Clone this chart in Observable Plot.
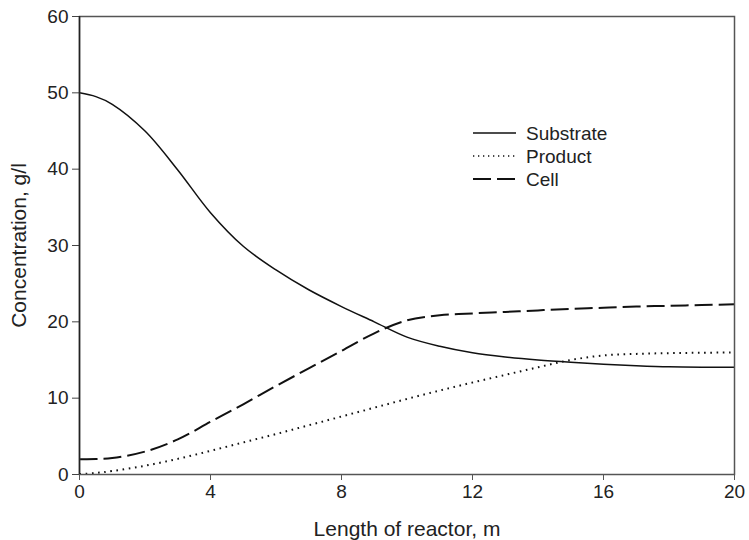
<!DOCTYPE html>
<html>
<head>
<meta charset="utf-8">
<script src="https://cdn.jsdelivr.net/npm/d3@7"></script>
<script src="https://cdn.jsdelivr.net/npm/@observablehq/plot@0.6"></script>
<style>
  html, body { margin: 0; padding: 0; background: #fff; }
  #chart { width: 749px; height: 540px; }
</style>
</head>
<body>
<div id="chart"></div>
<script>
// Length of reactor, m
const lengthM = [0, 0.5, 1, 2, 3, 4, 5, 6, 7, 8, 9, 10, 11, 12, 13, 14, 15, 16, 17, 18, 19, 20];
// Concentrations, g/l
const substrate = [50.0, 49.5, 48.5, 45.0, 39.9, 34.3, 29.9, 26.8, 24.2, 22.0, 20.0, 18.0, 16.8, 15.95, 15.4, 15.0, 14.7, 14.45, 14.25, 14.1, 14.05, 14.05];
const product   = [0.05, 0.2, 0.45, 1.15, 2.05, 3.1, 4.2, 5.3, 6.45, 7.6, 8.75, 9.9, 11.0, 12.05, 13.05, 14.05, 15.0, 15.6, 15.8, 15.9, 15.95, 16.0];
const cell      = [2.0, 2.02, 2.15, 3.0, 4.6, 6.9, 9.2, 11.6, 13.9, 16.2, 18.5, 20.2, 20.85, 21.1, 21.3, 21.5, 21.7, 21.85, 22.0, 22.1, 22.2, 22.3];

const xTicks = [0, 4, 8, 12, 16, 20];
const yTicks = [0, 10, 20, 30, 40, 50, 60];
const seriesNames = ["Substrate", "Product", "Cell"];
const xLabel = "Length of reactor, m";
const yLabel = "Concentration, g/l";

const styles = {
  Substrate: {strokeWidth: 1.5, dash: null},
  Product: {strokeWidth: 2, dash: "1.6,4.6"},
  Cell: {strokeWidth: 2, dash: "18,6"}
};

const seriesValues = {Substrate: substrate, Product: product, Cell: cell};
const rows = (name) => lengthM.map((x, i) => ({x, y: seriesValues[name][i]}));

const FONT = "'Liberation Sans', Arial, Helvetica, sans-serif";

const lineMarks = seriesNames.map(name => Plot.line(rows(name), {
  x: "x", y: "y", curve: "catmull-rom",
  stroke: "#111", strokeWidth: styles[name].strokeWidth,
  strokeDasharray: styles[name].dash, strokeLinecap: "butt"
}));

const chart = Plot.plot({
  width: 749,
  height: 540,
  marginLeft: 79,
  marginRight: 15,
  marginTop: 16,
  marginBottom: 66,
  style: {fontFamily: FONT, fontSize: "19px", color: "#222", background: "#fff"},
  x: {domain: [0, 20]},
  y: {domain: [0, 60]},
  marks: [
    ...lineMarks,
    Plot.frame({stroke: "#555", strokeWidth: 1.5}),
    Plot.axisX({ticks: xTicks, tickSize: 6, tickPadding: 4, stroke: "#555",
      label: xLabel, labelAnchor: "center", labelArrow: "none", labelOffset: 61}),
    Plot.axisY({ticks: yTicks, tickSize: 7, tickPadding: 4, stroke: "#444",
      label: yLabel, labelAnchor: "center", labelArrow: "none", labelOffset: 68}),
    Plot.ruleX([0], {stroke: "#222", strokeWidth: 1.5})
  ]
});

document.getElementById("chart").appendChild(chart);

const svg = d3.select(chart);
// Axis titles a little larger than tick labels
svg.selectAll("text").filter(function() {
  const t = this.textContent;
  return t === xLabel || t === yLabel;
}).attr("font-size", 21);

// Legend (drawn inside the plot area)
const lg = svg.append("g").attr("transform", "translate(473,133)");
seriesNames.forEach((name, i) => {
  const g = lg.append("g").attr("transform", `translate(0,${i * 23})`);
  g.append("line").attr("x1", 0).attr("x2", 43).attr("y1", 0).attr("y2", 0)
    .attr("stroke", "#111").attr("stroke-width", name === "Product" ? 1.3 : styles[name].strokeWidth)
    .attr("stroke-dasharray", name === "Product" ? "1.3,3.7" : (name === "Cell" ? "18,6" : null));
  g.append("text").attr("x", 53).attr("y", 0).attr("dy", "0.35em")
    .attr("text-anchor", "start")
    .attr("font-family", FONT).attr("font-size", 19).attr("fill", "#222").text(name);
});
</script>
</body>
</html>
